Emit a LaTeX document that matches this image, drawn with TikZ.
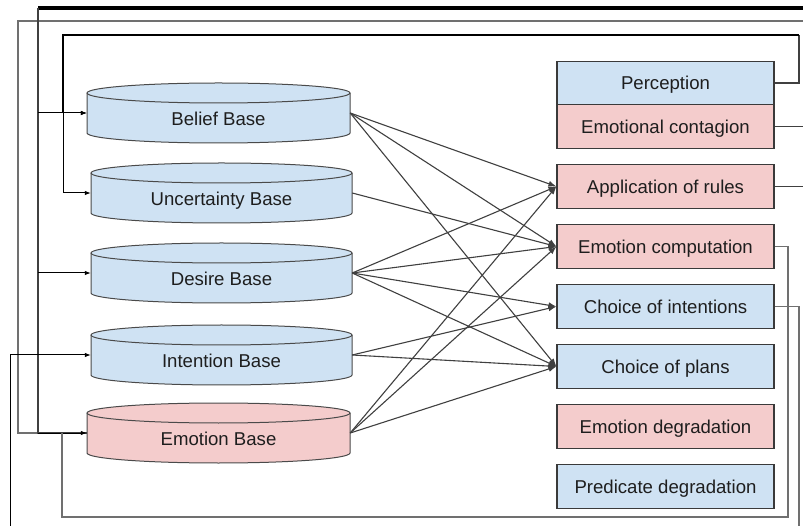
\documentclass[tikz,border=0pt]{standalone}
\usepackage{fontspec}
\setmainfont{Liberation Sans}
\usetikzlibrary{arrows.meta}
\definecolor{bluefill}{HTML}{CFE2F3}
\definecolor{pinkfill}{HTML}{F4CCCC}
\definecolor{edgecol}{HTML}{3A3A3A}
\definecolor{cylcol}{HTML}{4A4A4A}
\definecolor{wire}{HTML}{404040}
\definecolor{graywire}{HTML}{707070}
\definecolor{txt}{HTML}{1E1E1E}
\newcommand\labfont{\fontsize{18.6}{22}\selectfont}
\tikzset{
  box/.style={draw=edgecol, line width=1.1pt, minimum width=217pt, minimum height=43.5pt,
    inner sep=0pt, text height=13.4pt, text depth=0pt, font=\labfont, text=txt},
  link/.style={draw=wire, line width=1.1pt, -{Latex[length=8pt,width=6pt]}},
  fb/.style={draw=wire, line width=1.1pt},
  fbarrow/.style={draw=black, line width=1pt, -{Latex[length=6pt,width=4.5pt]}},
  heavy/.style={draw=black, line width=2.2pt},
  heavier/.style={draw=black, line width=3.2pt},
}
% name, xleft, xright, ytop, fill, text
\newcommand\dbcyl[6]{%
  \pgfmathsetmacro\rx{(#3-#2)/2}%
  \path[fill=#5, draw=cylcol, line width=1pt]
    (#2,#4+10) -- (#2,#4+50)
    arc[start angle=180, end angle=360, x radius=\rx pt, y radius=10pt]
    -- (#3,#4+10)
    arc[start angle=0, end angle=180, x radius=\rx pt, y radius=10pt] -- cycle;
  \draw[cylcol, line width=1pt] (#2,#4+10)
    arc[start angle=180, end angle=360, x radius=\rx pt, y radius=10pt];
  \node[inner sep=0pt, minimum width={(#3-#2)*1pt}, minimum height=60pt] (#1) at ({(#2+#3)/2},#4+30) {};
  \node[anchor=base, inner sep=0pt, font=\labfont, text=txt] (#1-t) at ({(#2+#3)/2},#4+42.5) {#6};
}
\begin{document}
\begin{tikzpicture}[x=1pt, y=-1pt]
  \clip (0,0) rectangle (803,526);
  \fill[white] (0,0) rectangle (803,526);

  % cylinders
  \dbcyl{Bel}{87}{350}{83}{bluefill}{Belief Base}
  \dbcyl{Unc}{91}{352}{163}{bluefill}{Uncertainty Base}
  \dbcyl{Des}{91}{352}{243}{bluefill}{Desire Base}
  \dbcyl{Int}{91}{352}{325}{bluefill}{Intention Base}
  \dbcyl{Emo}{87}{350}{403}{pinkfill}{Emotion Base}

  % process boxes
  \node[box, fill=bluefill] (Perc) at (665.5,83)    {Perception};
  \node[box, fill=pinkfill] (EmC)  at (665.5,126.5) {Emotional contagion};
  \node[box, fill=pinkfill] (AR)   at (665.5,186.5) {Application of rules};
  \node[box, fill=pinkfill] (EC)   at (665.5,246.5) {Emotion computation};
  \node[box, fill=bluefill] (CI)   at (665.5,306.5) {Choice of intentions};
  \node[box, fill=bluefill] (CP)   at (665.5,366.5) {Choice of plans};
  \node[box, fill=pinkfill] (ED)   at (665.5,426.5) {Emotion degradation};
  \node[box, fill=bluefill] (PD)   at (665.5,486.5) {Predicate degradation};

  % bases -> processes
  \draw[link] (Bel.east) -- (AR.west);
  \draw[link] (Bel.east) -- (EC.west);
  \draw[link] (Bel.east) -- (CP.west);
  \draw[link] (Unc.east) -- (EC.west);
  \draw[link] (Des.east) -- (AR.west);
  \draw[link] (Des.east) -- (EC.west);
  \draw[link] (Des.east) -- (CI.west);
  \draw[link] (Des.east) -- (CP.west);
  \draw[link] (Int.east) -- (CI.west);
  \draw[link] (Int.east) -- (CP.west);
  \draw[link] (Emo.east) -- (AR.west);
  \draw[link] (Emo.east) -- (EC.west);
  \draw[link] (Emo.east) -- (CP.west);

  % feedback coordinates
  \coordinate (pR) at (799,35);
  \coordinate (pL) at (63,35);
  \coordinate (pB) at (63,113);
  \coordinate (aR) at (812,8);
  \coordinate (aL) at (38,8);
  \coordinate (eR) at (812,21);
  \coordinate (eL) at (18,21);
  \coordinate (cR) at (788,517);
  \coordinate (cJ) at (62,433);
  \coordinate (iR) at (799,540);
  \coordinate (iL) at (10,540);

  % Perception -> Belief, Uncertainty
  \draw[fb] (Perc.east) -| (pR);
  \draw[heavy] (pR) -- (pL) -- (pB);
  \draw[fbarrow] (pB) -- (Bel.west);
  \draw[fbarrow] (pB) |- (Unc.west);

  % Emotional contagion -> Emotion base
  \draw[fb] (EmC.east) -| (eR);
  \draw[graywire, line width=1.5pt] (eR) -- (eL) |- (Emo.west);

  % Application of rules -> Belief, Desire, Emotion
  \draw[fb] (AR.east) -| (aR);
  \draw[heavier] (aR) -- (aL);
  \draw[fb] (aL) |- (Emo.west);
  \draw[fbarrow] (38,113) -- (Bel.west);
  \draw[fbarrow] (38,273) -- (Des.west);
  \draw[fbarrow] (38,433) -- (Emo.west);

  % Emotion computation -> Emotion base
  \draw[graywire, line width=1.3pt] (EC.east) -| (cR) -| (cJ);

  % Choice of intentions -> Intention base
  \draw[graywire, line width=1.3pt] (CI.east) -| (iR) -- (iL);
  \draw[fbarrow] (iL) |- (Int.west);
\end{tikzpicture}
\end{document}
